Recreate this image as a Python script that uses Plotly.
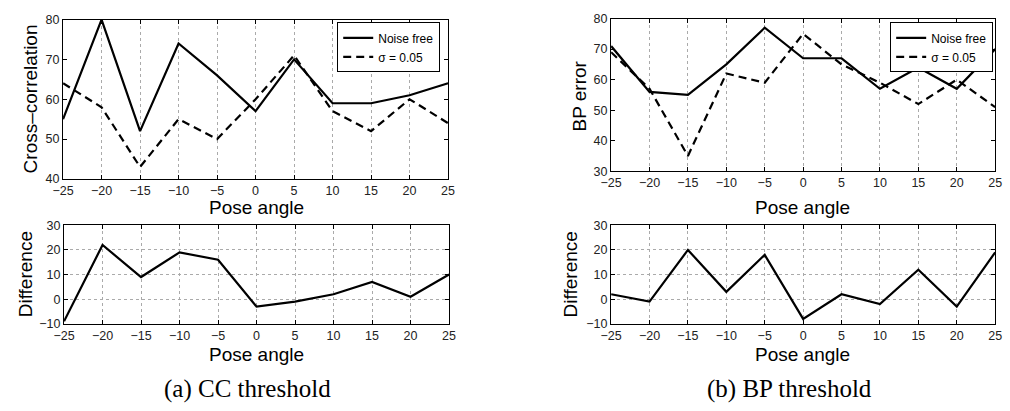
import plotly.graph_objects as go

angles = [-25, -20, -15, -10, -5, 0, 5, 10, 15, 20, 25]

cc_noise_free = [55, 80, 52, 74, 66, 57, 70, 59, 59, 61, 64]
cc_sigma = [64, 58, 43, 55, 50, 60, 71, 57, 52, 60, 54]
cc_difference = [-9, 22, 9, 19, 16, -3, -1, 2, 7, 1, 10]

bp_noise_free = [71, 56, 55, 65, 77, 67, 67, 57, 64, 57, 70]
bp_sigma = [69, 57, 35, 62, 59, 75, 65, 59, 52, 60, 51]
bp_difference = [2, -1, 20, 3, 18, -8, 2, -2, 12, -3, 19]

x_ticks = angles
cc_y_ticks = [40, 50, 60, 70, 80]
bp_y_ticks = [30, 40, 50, 60, 70, 80]
diff_y_ticks = [-10, 0, 10, 20, 30]

W, H = 1010, 411
def fx(px): return px / W
def fy(py): return 1 - py / H

FONT = "Liberation Sans, Arial, sans-serif"
SERIF = "Liberation Serif, Times New Roman, serif"

fig = go.Figure()

solid = dict(color="black", width=2.2)
dashed = dict(color="black", width=2.2, dash="8px,5px")

fig.add_trace(go.Scatter(x=angles, y=cc_noise_free, mode="lines", line=solid, name="Noise free", xaxis="x", yaxis="y", legend="legend"))
fig.add_trace(go.Scatter(x=angles, y=cc_sigma, mode="lines", line=dashed, name="σ = 0.05", xaxis="x", yaxis="y", legend="legend"))
fig.add_trace(go.Scatter(x=angles, y=bp_noise_free, mode="lines", line=solid, name="Noise free", xaxis="x2", yaxis="y2", legend="legend2"))
fig.add_trace(go.Scatter(x=angles, y=bp_sigma, mode="lines", line=dashed, name="σ = 0.05", xaxis="x2", yaxis="y2", legend="legend2"))
fig.add_trace(go.Scatter(x=angles, y=cc_difference, mode="lines", line=solid, showlegend=False, xaxis="x3", yaxis="y3"))
fig.add_trace(go.Scatter(x=angles, y=bp_difference, mode="lines", line=solid, showlegend=False, xaxis="x4", yaxis="y4"))

TICKFONT = dict(family=FONT, size=12.5, color="#222")

def xax(domain, anchor):
    return dict(domain=domain, anchor=anchor, range=[-25, 25], tickvals=x_ticks,
                showline=True, linecolor="black", linewidth=1.2, mirror="ticks",
                ticks="inside", ticklen=4, tickcolor="black",
                showgrid=True, gridcolor="#aaa", griddash="dot", gridwidth=1,
                zeroline=False, tickfont=TICKFONT, ticklabeloverflow="allow")

def yax(domain, anchor, rng, ticks, grid):
    return dict(domain=domain, anchor=anchor, range=rng, tickvals=ticks,
                showline=True, linecolor="black", linewidth=1.2, mirror="ticks",
                ticks="inside", ticklen=4, tickcolor="black",
                showgrid=grid, gridcolor="#aaa", griddash="dot", gridwidth=1,
                zeroline=False, tickfont=TICKFONT, ticklabeloverflow="allow")

top_l = [fx(53), fx(445)]
top_r = [fx(611), fx(1002)]
bot_l = [fx(54), fx(446)]
bot_r = [fx(611), fx(1002)]

legend_style = dict(xanchor="right", yanchor="top",
                    bordercolor="black", borderwidth=1, bgcolor="white",
                    font=dict(family=FONT, size=12, color="black"),
                    tracegroupgap=0, itemwidth=30)

fig.update_layout(
    width=W, height=H, margin=dict(l=0, r=0, t=0, b=0),
    paper_bgcolor="white", plot_bgcolor="white",
    font=dict(family=FONT, color="black"),
    xaxis=xax(top_l, "y"),
    yaxis=yax([fy(178), fy(13)], "x", [40, 80], cc_y_ticks, False),
    xaxis2=xax(top_r, "y2"),
    yaxis2=yax([fy(170), fy(12)], "x2", [30, 80], bp_y_ticks, False),
    xaxis3=xax(bot_l, "y3"),
    yaxis3=yax([fy(328), fy(226)], "x3", [-10, 30], diff_y_ticks, True),
    xaxis4=xax(bot_r, "y4"),
    yaxis4=yax([fy(328), fy(226)], "x4", [-10, 30], diff_y_ticks, True),
    legend=dict(x=fx(437), y=fy(16), **legend_style),
    legend2=dict(x=fx(1000), y=fy(16), **legend_style),
)

annos = [
    ("Pose angle", fx(250), fy(208), 0, 19, FONT),
    ("Pose angle", fx(806), fy(208), 0, 19, FONT),
    ("Pose angle", fx(250), fy(360), 0, 19, FONT),
    ("Pose angle", fx(806), fy(360), 0, 19, FONT),
    ("Cross\u2013correlation", fx(20), fy(95), -90, 19, FONT),
    ("BP error", fx(579), fy(92), -90, 19, FONT),
    ("Difference", fx(15), fy(277), -90, 19, FONT),
    ("Difference", fx(570), fy(277), -90, 19, FONT),
    ("(a) CC threshold", fx(241), fy(395), 0, 25, SERIF),
    ("(b) BP threshold", fx(793), fy(395), 0, 25, SERIF),
]
for text, x, y, ang, size, fam in annos:
    fig.add_annotation(text=text, x=x, y=y, xref="paper", yref="paper",
                       xanchor="center", yanchor="middle", textangle=ang,
                       showarrow=False, font=dict(family=fam, size=size, color="black"))

fig.write_html("out.html", config={"displayModeBar": False},
               post_script="document.body.style.margin='0';document.body.style.overflow='hidden';")
